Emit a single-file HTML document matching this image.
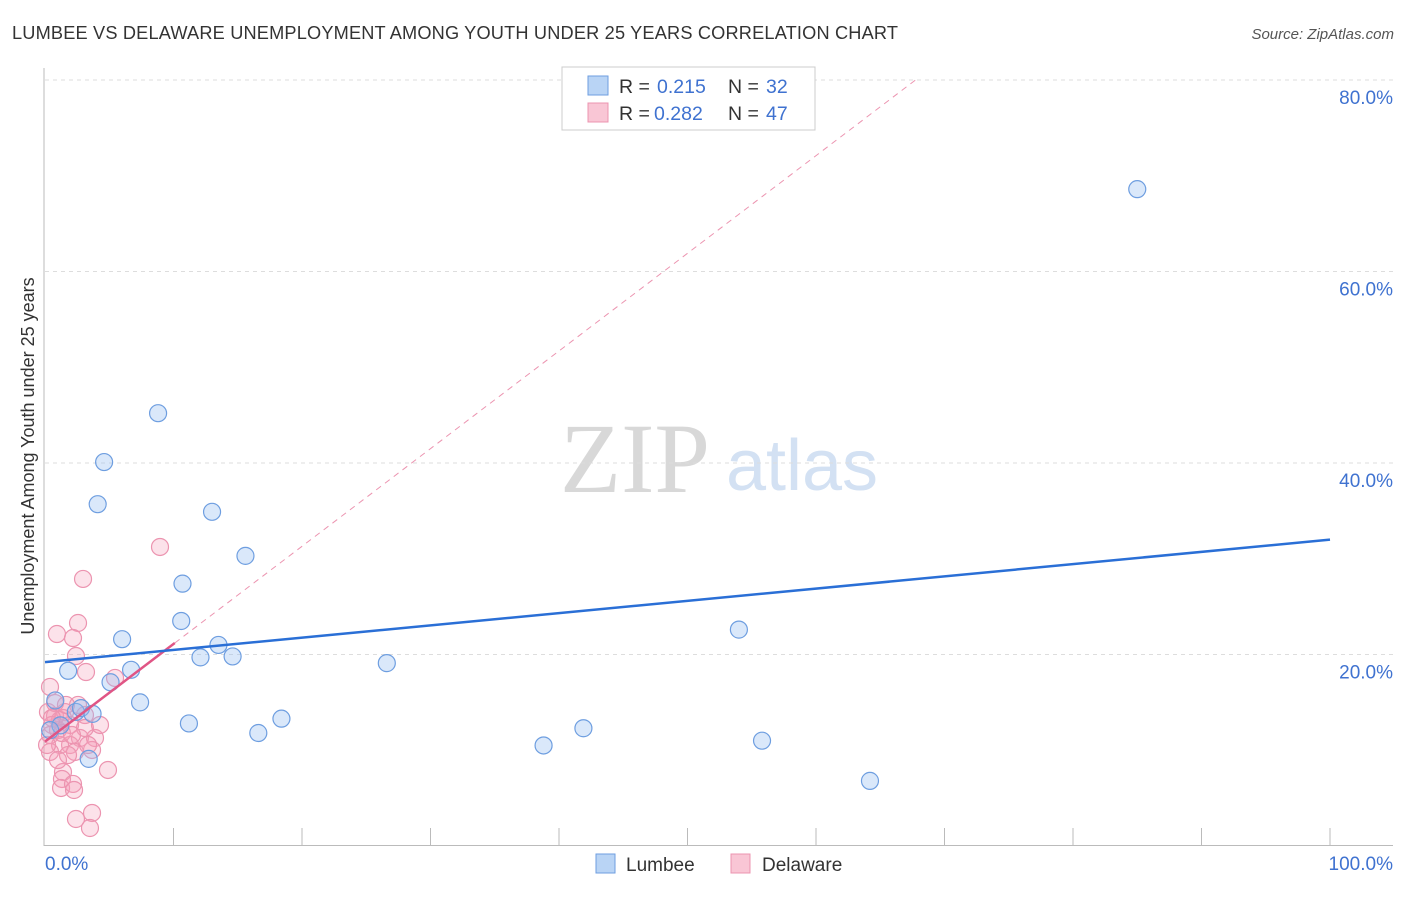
<!DOCTYPE html>
<html><head><meta charset="utf-8"><style>
body{margin:0;background:#fff;font-family:"Liberation Sans",sans-serif;}
svg text{font-family:"Liberation Sans",sans-serif;}
</style></head><body>
<svg id="chart" width="1406" height="892" xmlns="http://www.w3.org/2000/svg">
<text x="12" y="39" font-size="18.2" fill="#333" textLength="886">LUMBEE VS DELAWARE UNEMPLOYMENT AMONG YOUTH UNDER 25 YEARS CORRELATION CHART</text>
<text x="1394" y="39" font-size="15" fill="#555" text-anchor="end" font-style="italic">Source: ZipAtlas.com</text>
<text transform="translate(34,456) rotate(-90)" font-size="18" fill="#333" text-anchor="middle">Unemployment Among Youth under 25 years</text>
<g>
<text x="635" y="492" font-size="100" fill="#d8d8d8" text-anchor="middle" style="font-family:'Liberation Serif',serif">ZIP</text>
<text x="802" y="490" font-size="72" fill="#d3e1f3" text-anchor="middle">atlas</text>
</g>
<g id="grid"></g><g id="marks"></g>
<g>
<rect x="562" y="67" width="253" height="63" fill="#fff" stroke="#ccc"/>
<rect x="588" y="76" width="20" height="19" fill="#b9d4f5" stroke="#6e9ee0"/>
<rect x="588" y="103" width="20" height="19" fill="#f9c6d5" stroke="#ec94b0"/>
<text x="619" y="93" font-size="19.5" fill="#333">R =</text>
<text x="657" y="93" font-size="19.5" fill="#3f72d0">0.215</text>
<text x="728" y="93" font-size="19.5" fill="#333">N =</text>
<text x="766" y="93" font-size="19.5" fill="#3f72d0">32</text>
<text x="619" y="120" font-size="19.5" fill="#333">R =</text>
<text x="654" y="120" font-size="19.5" fill="#3f72d0">0.282</text>
<text x="728" y="120" font-size="19.5" fill="#333">N =</text>
<text x="766" y="120" font-size="19.5" fill="#3f72d0">47</text>
</g>
<g>
<rect x="596" y="854" width="19" height="19" fill="#b9d4f5" stroke="#6e9ee0"/>
<text x="626" y="871" font-size="19" fill="#333">Lumbee</text>
<rect x="731" y="854" width="19" height="19" fill="#f9c6d5" stroke="#ec94b0"/>
<text x="762" y="871" font-size="19" fill="#333">Delaware</text>
</g>
<text x="45" y="870" font-size="19" fill="#3f72d0">0.0%</text>
<text x="1393" y="870" font-size="19" fill="#3f72d0" text-anchor="end">100.0%</text>
</svg>
<script>
const yTicks=[20,40,60,80];
const xTicks=[10,20,30,40,50,60,70,80,90,100];
const lumbeeX=[1.8,1.2,2.4,2.8,3.7,3.4,4.1,4.6,5.1,6.0,6.7,7.4,8.8,10.6,10.7,11.2,12.1,13.0,13.5,14.6,15.6,16.6,18.4,26.6,38.8,41.9,54.0,55.8,64.2,85.0,0.4,0.8];
const lumbeeY=[18.3,12.6,14.0,14.4,13.8,9.1,35.7,40.1,17.1,21.6,18.4,15.0,45.2,23.5,27.4,12.8,19.7,34.9,21.0,19.8,30.3,11.8,13.3,19.1,10.5,12.3,22.6,11.0,6.8,68.6,12.1,15.2];
const delPx=[160,83,57,78,73,76,86,50,115,48,55,60,52,58,50,65,70,85,80,95,70,60,50,75,68,85,108,63,62,61,73,74,76,92,90,55,63,47,92,100,78,58,66,52,88,62,72];
const delPy=[547,579,634,623,638,656,672,687,678,712,716,720,725,730,735,712,725,715,738,738,745,745,752,752,755,728,770,772,779,788,784,790,819,813,828,703,718,745,750,725,705,760,705,718,745,733,735];
const delX=delPx.map(p=>+((p-45)/12.85).toFixed(2));
const delY=delPy.map(p=>+((846-p)/9.575).toFixed(2));
const lumbeeFit=[19.2,32.0];
const delFit=[10.9,1.02];
const X=v=>45+v*12.85, Y=v=>846-v*9.575;
const ns="http://www.w3.org/2000/svg";
function mk(t,a,parent){const e=document.createElementNS(ns,t);for(const k in a)e.setAttribute(k,a[k]);parent.appendChild(e);return e;}
const grid=document.getElementById('grid'),marks=document.getElementById('marks');
for(const t of yTicks){
 const l=mk('line',{x1:45,x2:1393,y1:Y(t),y2:Y(t),stroke:'#ddd','stroke-dasharray':'4,4'},grid);
 
 
 const tx=mk('text',{x:1393,y:Y(t)+24,'font-size':19,fill:'#3f72d0','text-anchor':'end'},grid);
 tx.textContent=t.toFixed(1)+'%';
 
 
}
mk('line',{x1:44,x2:44,y1:68,y2:846,stroke:'#bbb'},grid);
mk('line',{x1:44,x2:1393,y1:845.5,y2:845.5,stroke:'#bbb'},grid);
for(const t of xTicks){
 const l=mk('line',{x1:X(t),x2:X(t),y1:828,y2:846,stroke:'#bbb'},grid);
 
 
}
for(let i=0;i<delX.length;i++){
 const c=mk('circle',{cx:X(delX[i]),cy:Y(delY[i]),r:8.5,fill:'rgba(245,160,185,0.3)',stroke:'#ec94b0','stroke-width':1.2},marks);
 
 
}
for(let i=0;i<lumbeeX.length;i++){
 const c=mk('circle',{cx:X(lumbeeX[i]),cy:Y(lumbeeY[i]),r:8.5,fill:'rgba(150,190,240,0.35)',stroke:'#6e9ee0','stroke-width':1.2},marks);
 
 
}
const xe=(80-delFit[0])/delFit[1];
const d1=mk('line',{x1:X(10.1),y1:Y(delFit[0]+delFit[1]*10.1),x2:X(xe),y2:Y(80),stroke:'#ec94b0','stroke-width':1,'stroke-dasharray':'6,5'},marks);


const d2=mk('line',{x1:X(0),y1:Y(delFit[0]),x2:X(10.1),y2:Y(delFit[0]+delFit[1]*10.1),stroke:'#e05585','stroke-width':2.5},marks);


const b=mk('line',{x1:X(0),y1:Y(lumbeeFit[0]),x2:X(100),y2:Y(lumbeeFit[1]),stroke:'#2a6fd6','stroke-width':2.5},marks);


</script>
</body></html>
